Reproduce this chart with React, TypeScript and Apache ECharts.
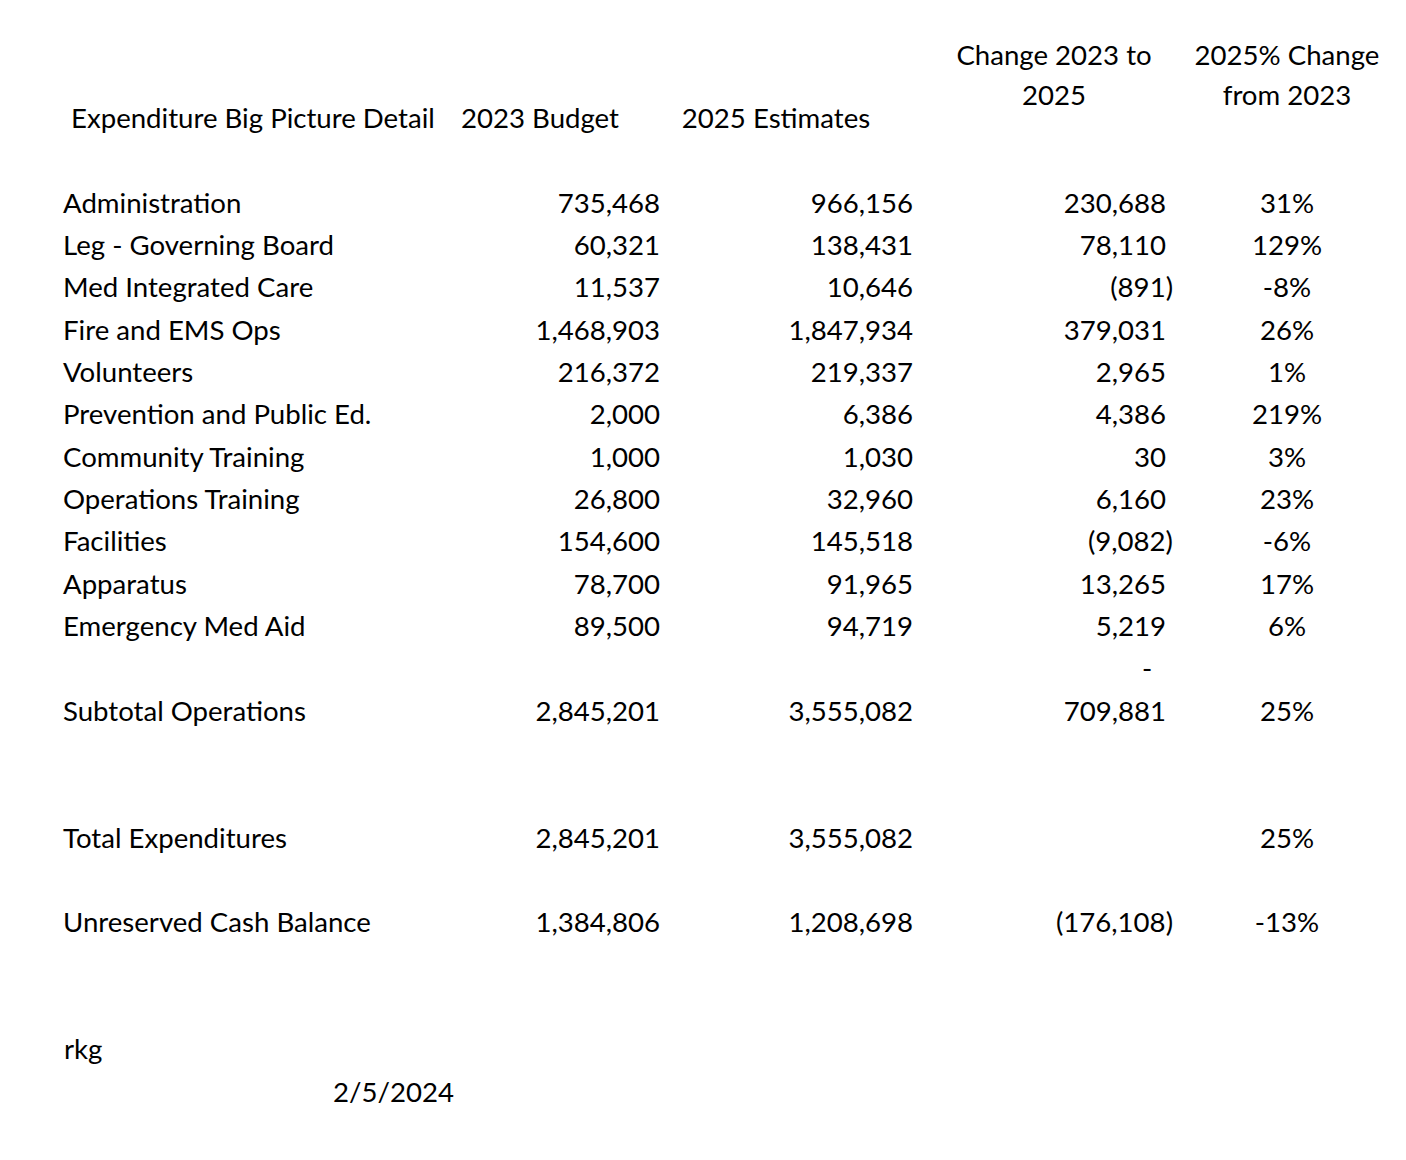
import React, { useEffect, useRef } from "react";
import * as echarts from "echarts";

// ---------- data ----------
const headerLabel = "Expenditure Big Picture Detail";
const headerBudget = "2023 Budget";
const headerEstimates = "2025 Estimates";
const headerChange = ["Change 2023 to", "2025"];
const headerPct = ["2025% Change", "from 2023"];

const categories = [
  "Administration",
  "Leg - Governing Board",
  "Med Integrated Care",
  "Fire and EMS Ops",
  "Volunteers",
  "Prevention and Public Ed.",
  "Community Training",
  "Operations Training",
  "Facilities",
  "Apparatus",
  "Emergency Med Aid",
];
const budget2023 = [735468, 60321, 11537, 1468903, 216372, 2000, 1000, 26800, 154600, 78700, 89500];
const estimates2025 = [966156, 138431, 10646, 1847934, 219337, 6386, 1030, 32960, 145518, 91965, 94719];
const change = [230688, 78110, -891, 379031, 2965, 4386, 30, 6160, -9082, 13265, 5219];
const pctChange = [31, 129, -8, 26, 1, 219, 3, 23, -6, 17, 6];

const summaryLabels = ["Subtotal Operations", "Total Expenditures", "Unreserved Cash Balance"];
const summaryBudget = [2845201, 2845201, 1384806];
const summaryEstimates = [3555082, 3555082, 1208698];
const summaryChange: (number | null)[] = [709881, null, -176108];
const summaryPct = [25, 25, -13];

const footerAuthor = "rkg";
const footerDate = "2/5/2024";

// ---------- layout ----------
const W = 1406;
const H = 1160;
const ROW_H = 42.33;
const ROW0_Y = 117.5;
const FONT = "Lato";
const FONT_SIZE = 27.6;

const COL_LABEL_X = 63;
const COL_HEADER_LABEL_X = 71;
const COL_BUDGET_R = 660;
const COL_EST_R = 913;
const COL_CHANGE_R = 1166;
const COL_CHANGE_NEG_R = 1173;
const COL_PCT_C = 1287;
const COL_BUDGET_HDR_C = 540;
const COL_EST_HDR_C = 776;
const COL_CHANGE_HDR_C = 1054;
const DASH_X = 1147;
const DATE_X = 333;

const detailRow0 = 2;
const summaryRows = [14, 17, 19];
const dashRow = 13;
const authorRow = 22;
const dateRow = 23;

const fmt = (v: number) => {
  const s = Math.abs(v).toLocaleString("en-US");
  return v < 0 ? `(${s})` : s;
};

type Cell = { x: number; row: number; text: string; align: "left" | "right" | "center" };

function buildCells(): Cell[] {
  const cells: Cell[] = [];
  cells.push({ x: COL_HEADER_LABEL_X, row: 0, text: headerLabel, align: "left" });
  cells.push({ x: COL_BUDGET_HDR_C, row: 0, text: headerBudget, align: "center" });
  cells.push({ x: COL_EST_HDR_C, row: 0, text: headerEstimates, align: "center" });
  cells.push({ x: COL_CHANGE_HDR_C, row: -1.48, text: headerChange[0], align: "center" });
  cells.push({ x: COL_CHANGE_HDR_C, row: -0.55, text: headerChange[1], align: "center" });
  cells.push({ x: COL_PCT_C, row: -1.48, text: headerPct[0], align: "center" });
  cells.push({ x: COL_PCT_C, row: -0.55, text: headerPct[1], align: "center" });

  const addRow = (row: number, label: string, b: number, e: number, c: number | null, p: number) => {
    cells.push({ x: COL_LABEL_X, row, text: label, align: "left" });
    cells.push({ x: COL_BUDGET_R, row, text: fmt(b), align: "right" });
    cells.push({ x: COL_EST_R, row, text: fmt(e), align: "right" });
    if (c !== null) {
      cells.push({ x: c < 0 ? COL_CHANGE_NEG_R : COL_CHANGE_R, row, text: fmt(c), align: "right" });
    }
    cells.push({ x: COL_PCT_C, row, text: `${p}%`, align: "center" });
  };

  categories.forEach((name, i) => {
    addRow(detailRow0 + i, name, budget2023[i], estimates2025[i], change[i], pctChange[i]);
  });
  cells.push({ x: DASH_X, row: dashRow, text: "-", align: "center" });
  summaryLabels.forEach((name, i) => {
    addRow(summaryRows[i], name, summaryBudget[i], summaryEstimates[i], summaryChange[i], summaryPct[i]);
  });
  cells.push({ x: COL_LABEL_X + 1, row: authorRow, text: footerAuthor, align: "left" });
  cells.push({ x: DATE_X, row: dateRow, text: footerDate, align: "left" });
  return cells;
}

export default function App() {
  const ref = useRef<HTMLDivElement>(null);

  useEffect(() => {
    document.body.style.margin = "0";
    document.body.style.background = "#ffffff";
    if (!ref.current) return;
    const chart = echarts.init(ref.current, undefined, { renderer: "svg" });
    const cells = buildCells();
    const yMin = -ROW0_Y / ROW_H;
    const yMax = yMin + H / ROW_H;

    chart.setOption({
      animation: false,
      backgroundColor: "#ffffff",
      grid: { left: 0, right: 0, top: 0, bottom: 0 },
      xAxis: { type: "value", min: 0, max: W, show: false },
      yAxis: { type: "value", min: yMin, max: yMax, inverse: true, show: false },
      series: [
        {
          type: "custom",
          coordinateSystem: "cartesian2d",
          data: cells.map((c) => [c.x, c.row]),
          renderItem: (params: any, api: any) => {
            const c = cells[params.dataIndex];
            const pt = api.coord([api.value(0), api.value(1)]);
            return {
              type: "text",
              x: pt[0],
              y: pt[1],
              style: {
                text: c.text,
                fill: "#000000",
                font: `${FONT_SIZE}px ${FONT}`,
                textAlign: c.align,
                textVerticalAlign: "middle",
              },
            };
          },
        },
      ],
    });
    return () => chart.dispose();
  }, []);

  return <div ref={ref} style={{ width: W, height: H }} />;
}
